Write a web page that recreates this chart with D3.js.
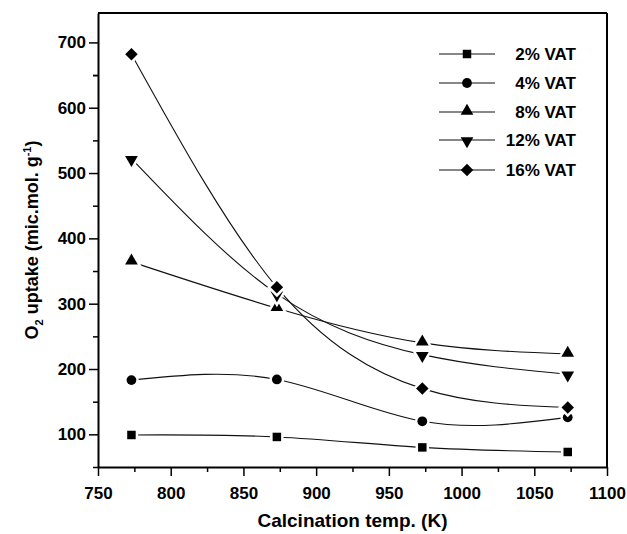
<!DOCTYPE html>
<html>
<head>
<meta charset="utf-8">
<script src="https://cdn.jsdelivr.net/npm/d3@7"></script>
<style>
  body { margin: 0; background: #fff; }
  svg { display: block; font-family: "Liberation Sans", Arial, sans-serif; font-weight: bold; }
  .axis path, .axis line { stroke: #000; }
  .axis text { font-size: 17px; font-weight: bold; fill: #000; font-family: "Liberation Sans", Arial, sans-serif; }
</style>
</head>
<body>
<svg id="chart" width="627" height="534"></svg>
<script>
// temperatures (K)
const temps = [773, 873, 973, 1073];
// O2 uptake per loading
const vat2 = [99, 96, 80, 73];
const vat4 = [183, 184, 120, 126];
const vat8 = [364, 293, 240, 223];
const vat12 = [522, 315, 222, 192];
const vat16 = [682, 325, 170, 141];
const seriesNames = ["2% VAT", "4% VAT", "8% VAT", "12% VAT", "16% VAT"];
const seriesValues = [vat2, vat4, vat8, vat12, vat16];
const xTicks = [750, 800, 850, 900, 950, 1000, 1050, 1100];
const yTicks = [100, 200, 300, 400, 500, 600, 700];

const margin = { top: 13, right: 20, bottom: 67, left: 98 };
const width = 627, height = 534;
const innerWidth = width - margin.left - margin.right;
const innerHeight = height - margin.top - margin.bottom;

const x = d3.scaleLinear().domain([750, 1100]).range([0, innerWidth]);
const y = d3.scaleLinear().domain([50, 745]).range([innerHeight, 0]);

const svg = d3.select("#chart");
const g = svg.append("g").attr("transform", `translate(${margin.left},${margin.top})`);

// frame top and right
g.append("line").attr("x1", 0).attr("x2", innerWidth).attr("y1", 0).attr("y2", 0)
  .attr("stroke", "#000").attr("stroke-width", 2);
g.append("line").attr("x1", innerWidth).attr("x2", innerWidth).attr("y1", 0).attr("y2", innerHeight)
  .attr("stroke", "#000").attr("stroke-width", 2);

// minor ticks
const xMinor = d3.range(775, 1100, 50);
const yMinor = d3.range(50, 700, 100).concat([650]);

g.append("g").attr("class", "axis").attr("transform", `translate(0,${innerHeight})`)
  .call(d3.axisBottom(x).tickValues(xMinor).tickSize(5).tickFormat(""))
  .call(a => a.select(".domain").remove())
  .selectAll("line").attr("stroke-width", 1.5);
g.append("g").attr("class", "axis")
  .call(d3.axisLeft(y).tickValues(yMinor).tickSize(5).tickFormat(""))
  .call(a => a.select(".domain").remove())
  .selectAll("line").attr("stroke-width", 1.5);

// major axes
const xAxis = g.append("g").attr("class", "axis").attr("transform", `translate(0,${innerHeight})`)
  .call(d3.axisBottom(x).tickValues(xTicks).tickSizeInner(9).tickSizeOuter(0).tickPadding(11).tickFormat(d3.format("d")));
xAxis.select(".domain").attr("stroke-width", 2);
xAxis.selectAll("line").attr("stroke-width", 1.5);

const yAxis = g.append("g").attr("class", "axis")
  .call(d3.axisLeft(y).tickValues(yTicks).tickSizeInner(9).tickSizeOuter(0).tickPadding(3).tickFormat(d3.format("d")));
yAxis.select(".domain").attr("stroke-width", 2);
yAxis.selectAll("line").attr("stroke-width", 1.5);

// axis titles
svg.append("text")
  .attr("x", margin.left + x(925)).attr("y", 527)
  .attr("text-anchor", "middle").attr("font-size", 19)
  .text("Calcination temp. (K)");

const yt = svg.append("text")
  .attr("transform", `translate(38,${margin.top + innerHeight / 2}) rotate(-90)`)
  .attr("text-anchor", "middle").attr("font-size", 18);
yt.append("tspan").text("O");
yt.append("tspan").attr("font-size", 11).attr("dy", 5).text("2");
yt.append("tspan").attr("dy", -5).text(" uptake (mic.mol. g");
yt.append("tspan").attr("font-size", 11).attr("dy", -7).text("-1");
yt.append("tspan").attr("dy", 7).text(")");

// marker symbols (diamond = rotated square)
const symbols = [
  d3.symbol().type(d3.symbolSquare).size(72),
  d3.symbol().type(d3.symbolCircle).size(75),
  d3.symbol().type(d3.symbolTriangle).size(70),
  d3.symbol().type(d3.symbolTriangle).size(70),
  d3.symbol().type(d3.symbolSquare).size(78)
];
const rotations = [0, 0, 0, 180, 45];
const yShift = [0, 0, -1, 1, 0];

const line = d3.line()
  .x(d => x(d.t))
  .y(d => y(d.v))
  .curve(d3.curveNatural);

seriesValues.forEach((vals, i) => {
  const pts = temps.map((t, j) => ({ t: t, v: vals[j] }));
  g.append("path").datum(pts)
    .attr("fill", "none").attr("stroke", "#111").attr("stroke-width", 1.1)
    .attr("d", line);
});

// markers with white halo (gap between line and symbol)
seriesValues.forEach((vals, i) => {
  const pts = temps.map((t, j) => ({ t: t, v: vals[j] }));
  const mk = g.append("g");
  mk.selectAll("path.halo").data(pts).join("path")
    .attr("class", "halo")
    .attr("transform", d => `translate(${x(d.t)},${y(d.v) + yShift[i]}) rotate(${rotations[i]})`)
    .attr("d", symbols[i])
    .attr("fill", "#fff").attr("stroke", "#fff").attr("stroke-width", 5);
  mk.selectAll("path.mark").data(pts).join("path")
    .attr("class", "mark")
    .attr("transform", d => `translate(${x(d.t)},${y(d.v) + yShift[i]}) rotate(${rotations[i]})`)
    .attr("d", symbols[i])
    .attr("fill", "#000");
});

// legend
const legend = svg.append("g");
const legendY = [54, 83, 112, 140, 170];
seriesNames.forEach((name, i) => {
  const row = legend.append("g").attr("transform", `translate(0,${legendY[i]})`);
  row.append("line").attr("x1", 439).attr("x2", 495).attr("y1", 0).attr("y2", 0)
    .attr("stroke", "#111").attr("stroke-width", 1.1);
  row.append("path")
    .attr("transform", `translate(467,${yShift[i]}) rotate(${rotations[i]})`)
    .attr("d", symbols[i]).attr("fill", "#000");
  row.append("text").attr("x", 576).attr("y", 6)
    .attr("text-anchor", "end").attr("font-size", 17)
    .text(name);
});
</script>
</body>
</html>
